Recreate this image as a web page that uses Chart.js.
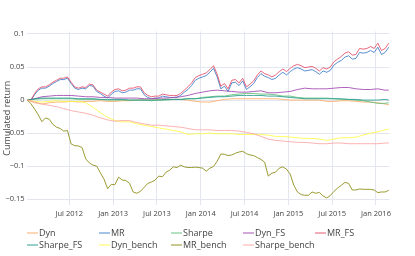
<!DOCTYPE html>
<html>
<head>
<meta charset="utf-8">
<script src="https://cdn.jsdelivr.net/npm/chart.js@4.4.1/dist/chart.umd.min.js"></script>
<style>
  body { margin: 0; background: #fff; }
  #wrap { position: relative; width: 415px; height: 256px; font-family: "Open Sans", sans-serif; }
  #legend { position: absolute; left: 0; top: 0; width: 415px; height: 256px; font-size: 9px; color: #444; pointer-events: none; }
  .item { position: absolute; white-space: nowrap; line-height: 12px; height: 12px; }
  .sw { display: inline-block; width: 11px; height: 0; border-top: 2px solid; vertical-align: middle; margin-right: 1px; position: relative; top: -1px; }
</style>
</head>
<body>
<div id="wrap">
  <canvas id="mainChart" width="415" height="256"></canvas>
  <div id="legend"></div>
</div>
<script>
// series names in legend order
var seriesNames = ["Dyn", "MR", "Sharpe", "Dyn_FS", "MR_FS", "Sharpe_FS", "Dyn_bench", "MR_bench", "Sharpe_bench"];

// x axis is months since Jan 2012
var xTickMonths = [6, 12, 18, 24, 30, 36, 42, 48];
var xTickLabels = ["Jul 2012", "Jan 2013", "Jul 2013", "Jan 2014", "Jul 2014", "Jan 2015", "Jul 2015", "Jan 2016"];
var yTickValues = [-0.15, -0.1, -0.05, 0, 0.05, 0.1];

// sampling dates (half month for the noisy series, monthly for the smooth ones)
var halfMonths = [
  0.25, 0.75, 1.25, 1.75, 2.25, 2.75, 3.25, 3.75, 4.25, 4.75,
  5.25, 5.75, 6.25, 6.75, 7.25, 7.75, 8.25, 8.75, 9.25, 9.75,
  10.25, 10.75, 11.25, 11.75, 12.25, 12.75, 13.25, 13.75, 14.25, 14.75,
  15.25, 15.75, 16.25, 16.75, 17.25, 17.75, 18.25, 18.75, 19.25, 19.75,
  20.25, 20.75, 21.25, 21.75, 22.25, 22.75, 23.25, 23.75, 24.25, 24.75,
  25.25, 25.75, 26.25, 26.75, 27.25, 27.75, 28.25, 28.75, 29.25, 29.75,
  30.25, 30.75, 31.25, 31.75, 32.25, 32.75, 33.25, 33.75, 34.25, 34.75,
  35.25, 35.75, 36.25, 36.75, 37.25, 37.75, 38.25, 38.75, 39.25, 39.75,
  40.25, 40.75, 41.25, 41.75, 42.25, 42.75, 43.25, 43.75, 44.25, 44.75,
  45.25, 45.75, 46.25, 46.75, 47.25, 47.75, 48.25, 48.75, 49.25, 49.75
];
var months = [
  0.25, 1.25, 2.25, 3.25, 4.25, 5.25, 6.25, 7.25, 8.25, 9.25,
  10.25, 11.25, 12.25, 13.25, 14.25, 15.25, 16.25, 17.25, 18.25, 19.25,
  20.25, 21.25, 22.25, 23.25, 24.25, 25.25, 26.25, 27.25, 28.25, 29.25,
  30.25, 31.25, 32.25, 33.25, 34.25, 35.25, 36.25, 37.25, 38.25, 39.25,
  40.25, 41.25, 42.25, 43.25, 44.25, 45.25, 46.25, 47.25, 48.25, 49.25, 49.75
];

// values (half-month grid)
var mrFS = [
  0, 0, 0.010, 0.017, 0.020, 0.020, 0.023, 0.027, 0.030, 0.033,
  0.033, 0.035, 0.027, 0.020, 0.018, 0.020, 0.019, 0.024, 0.023, 0.015,
  0.012, 0.009, 0.006, 0.012, 0.016, 0.017, 0.014, 0.015, 0.018, 0.018,
  0.020, 0.020, 0.011, 0.007, 0.005, 0.006, 0.006, 0.009, 0.008, 0.007,
  0.007, 0.007, 0.010, 0.015, 0.020, 0.026, 0.034, 0.037, 0.039, 0.041,
  0.046, 0.052, 0.039, 0.021, 0.025, 0.017, 0.030, 0.031, 0.026, 0.033,
  0.020, 0.024, 0.029, 0.038, 0.044, 0.040, 0.038, 0.035, 0.038, 0.043,
  0.047, 0.043, 0.048, 0.052, 0.054, 0.052, 0.049, 0.050, 0.051, 0.048,
  0.044, 0.049, 0.047, 0.050, 0.058, 0.062, 0.066, 0.071, 0.073, 0.068,
  0.069, 0.078, 0.077, 0.078, 0.081, 0.078, 0.086, 0.075, 0.078, 0.086
];
var mr = [
  0, 0, 0.008, 0.015, 0.018, 0.018, 0.021, 0.025, 0.028, 0.031,
  0.031, 0.033, 0.025, 0.018, 0.016, 0.018, 0.017, 0.022, 0.021, 0.013,
  0.010, 0.006, 0.003, 0.009, 0.013, 0.014, 0.011, 0.012, 0.015, 0.015,
  0.017, 0.017, 0.008, 0.004, 0.002, 0.003, 0.003, 0.006, 0.005, 0.004,
  0.004, 0.004, 0.007, 0.012, 0.016, 0.022, 0.030, 0.033, 0.035, 0.037,
  0.042, 0.048, 0.035, 0.017, 0.021, 0.013, 0.026, 0.027, 0.022, 0.029,
  0.016, 0.020, 0.025, 0.034, 0.040, 0.036, 0.034, 0.031, 0.033, 0.038,
  0.042, 0.038, 0.043, 0.047, 0.049, 0.047, 0.044, 0.045, 0.046, 0.043,
  0.039, 0.044, 0.042, 0.045, 0.053, 0.057, 0.060, 0.065, 0.067, 0.062,
  0.063, 0.072, 0.071, 0.072, 0.075, 0.072, 0.080, 0.069, 0.072, 0.080
];
var mrBench = [
  0, -0.0056, -0.0136, -0.0223, -0.0327, -0.027, -0.029, -0.0368, -0.041, -0.043,
  -0.047, -0.046, -0.0664, -0.069, -0.0694, -0.0718, -0.089, -0.095, -0.0985, -0.0998,
  -0.110, -0.1195, -0.134, -0.1275, -0.128, -0.1165, -0.121, -0.1217, -0.126, -0.139,
  -0.141, -0.138, -0.132, -0.126, -0.124, -0.121, -0.115, -0.116, -0.109, -0.106,
  -0.101, -0.102, -0.0985, -0.101, -0.102, -0.102, -0.1015, -0.102, -0.103, -0.1075,
  -0.103, -0.1005, -0.0925, -0.0817, -0.082, -0.084, -0.083, -0.0805, -0.0785, -0.0775,
  -0.081, -0.083, -0.084, -0.087, -0.0897, -0.094, -0.115, -0.1105, -0.109, -0.103,
  -0.101, -0.1045, -0.112, -0.129, -0.139, -0.143, -0.144, -0.144, -0.139, -0.141,
  -0.1397, -0.145, -0.148, -0.1444, -0.138, -0.133, -0.129, -0.1245, -0.126, -0.136,
  -0.136, -0.1344, -0.135, -0.135, -0.135, -0.136, -0.140, -0.139, -0.139, -0.1364
];

// monthly grid
var dyn = [
  0, -0.004, -0.006, -0.004, -0.003, -0.003, -0.002, -0.003, -0.002, -0.002,
  -0.001, -0.002, -0.002, -0.001, -0.001, 0.0, 0.0, 0.0, 0.001, 0.001,
  0.001, 0.001, 0.0, -0.002, -0.003, -0.003, -0.001, 0.001, 0.002, 0.002,
  0.002, 0.002, 0.002, 0.002, 0.002, 0.001, 0.0, 0.0, 0.0, 0.0,
  0.0, -0.002, -0.002, -0.001, -0.001, -0.002, -0.003, -0.003, -0.004, -0.006, -0.007
];
var sharpe = [
  0, 0.001, 0.002, 0.002, 0.002, 0.002, 0.002, 0.001, 0.001, 0.001,
  0.001, 0.0, 0.0, 0.0, 0.0, 0.0, 0.0, -0.001, 0.0, 0.0,
  0.001, 0.001, 0.002, 0.002, 0.004, 0.005, 0.006, 0.006, 0.008, 0.009,
  0.010, 0.010, 0.009, 0.009, 0.008, 0.006, 0.006, 0.004, 0.003, 0.003,
  0.003, 0.003, 0.002, 0.001, 0.001, 0.0, -0.001, -0.003, -0.005, -0.005, -0.004
];
var dynFS = [
  0, 0.002, 0.005, 0.006, 0.007, 0.007, 0.007, 0.006, 0.005, 0.005,
  0.004, 0.004, 0.003, 0.003, 0.003, 0.003, 0.002, 0.002, 0.003, 0.003,
  0.004, 0.005, 0.007, 0.010, 0.012, 0.014, 0.015, 0.014, 0.013, 0.012,
  0.012, 0.013, 0.014, 0.011, 0.011, 0.012, 0.013, 0.016, 0.018, 0.017,
  0.017, 0.017, 0.018, 0.019, 0.019, 0.017, 0.016, 0.016, 0.017, 0.015, 0.015
];
var sharpeFS = [
  0, 0.002, 0.003, 0.003, 0.003, 0.003, 0.003, 0.002, 0.002, 0.002,
  0.001, 0.001, 0.001, 0.001, 0.0, 0.0, 0.0, 0.0, 0.0, 0.001,
  0.001, 0.001, 0.002, 0.002, 0.003, 0.004, 0.005, 0.005, 0.006, 0.007,
  0.007, 0.007, 0.007, 0.006, 0.006, 0.005, 0.004, 0.003, 0.002, 0.002,
  0.002, 0.002, 0.002, 0.002, 0.001, 0.001, 0.0, 0.0, 0.0, 0.001, 0.0
];
var dynBench = [
  0, -0.002, -0.003, -0.002, -0.001, -0.002, -0.002, -0.002, -0.004, -0.011,
  -0.019, -0.026, -0.031, -0.033, -0.033, -0.036, -0.038, -0.040, -0.042, -0.044,
  -0.046, -0.048, -0.052, -0.051, -0.051, -0.050, -0.051, -0.051, -0.051, -0.052,
  -0.052, -0.052, -0.052, -0.053, -0.055, -0.055, -0.056, -0.057, -0.058, -0.058,
  -0.059, -0.061, -0.059, -0.057, -0.057, -0.056, -0.053, -0.050, -0.048, -0.045, -0.044
];
var sharpeBench = [
  0, -0.003, -0.006, -0.008, -0.010, -0.013, -0.016, -0.018, -0.020, -0.023,
  -0.027, -0.030, -0.032, -0.031, -0.031, -0.034, -0.036, -0.038, -0.038, -0.039,
  -0.040, -0.041, -0.043, -0.045, -0.045, -0.045, -0.046, -0.046, -0.046, -0.047,
  -0.049, -0.051, -0.055, -0.059, -0.061, -0.062, -0.063, -0.064, -0.064, -0.065,
  -0.066, -0.066, -0.065, -0.065, -0.066, -0.066, -0.066, -0.066, -0.066, -0.065, -0.065
];

var lineColors = [
  "rgba(253,170,100,0.85)", "rgba(60,125,200,0.85)", "rgba(95,190,120,0.85)",
  "rgba(160,70,175,0.85)", "rgba(228,65,95,0.8)", "rgba(35,155,140,0.85)",
  "rgba(255,250,70,0.85)", "rgba(150,150,40,0.95)", "rgba(250,165,165,0.85)"
];
var gridColor = "#e3e6ee";

function toPoints(xs, ys) {
  return ys.map(function (v, i) { return { x: xs[i], y: v }; });
}

var seriesData = [
  toPoints(months, dyn), toPoints(halfMonths, mr), toPoints(months, sharpe),
  toPoints(months, dynFS), toPoints(halfMonths, mrFS), toPoints(months, sharpeFS),
  toPoints(months, dynBench), toPoints(halfMonths, mrBench), toPoints(months, sharpeBench)
];

var datasets = seriesNames.map(function (name, i) {
  return {
    label: name,
    data: seriesData[i],
    borderColor: lineColors[i],
    backgroundColor: lineColors[i],
    borderWidth: 1,
    pointRadius: 0,
    tension: 0,
    fill: false,
    order: seriesNames.length - i   // later traces on top
  };
});

var config = {
  type: "line",
  data: { datasets: datasets },
  options: {
    responsive: false,
    animation: false,
    layout: { padding: { top: 31.5, right: 25.5, bottom: 35, left: 0 } },
    plugins: { legend: { display: false }, tooltip: { enabled: false } },
    scales: {
      x: {
        type: "linear",
        min: 0.14,
        max: 49.85,
        afterBuildTicks: function (scale) {
          scale.ticks = xTickMonths.map(function (v) { return { value: v }; });
        },
        afterFit: function (scale) { scale.height = 16; },
        grid: { color: gridColor, drawTicks: false },
        border: { display: false },
        ticks: {
          padding: 4, maxRotation: 0, autoSkip: false, color: "#444",
          font: { family: "Open Sans", size: 7.5 },
          callback: function (value, index) { return xTickLabels[index]; }
        }
      },
      y: {
        min: -0.1587,
        max: 0.1037,
        afterBuildTicks: function (scale) {
          scale.ticks = yTickValues.map(function (v) { return { value: v }; });
        },
        afterFit: function (scale) { scale.width = 26.5; },
        grid: { color: gridColor, drawTicks: false },
        border: { display: false },
        ticks: {
          padding: 2, color: "#444",
          font: { family: "Open Sans", size: 7.5 },
          callback: function (value) {
            return String(Math.round(value * 100) / 100).replace("-", "\u2212");
          }
        },
        title: {
          display: true, text: "Cumulated return", color: "#444",
          padding: { top: 2, bottom: 0 },
          font: { family: "Open Sans", size: 9 }
        }
      }
    }
  }
};

var ctx = document.getElementById("mainChart");
new Chart(ctx, config);

// legend laid out in fixed columns like the original
var legend = document.getElementById("legend");
seriesNames.forEach(function (name, i) {
  var item = document.createElement("div");
  item.className = "item";
  item.style.left = (27 + (i % 5) * 72) + "px";
  item.style.top = (227 + Math.floor(i / 5) * 12) + "px";
  var sw = document.createElement("span");
  sw.className = "sw";
  sw.style.borderColor = lineColors[i];
  sw.style.opacity = "0.55";
  item.appendChild(sw);
  item.appendChild(document.createTextNode(name));
  legend.appendChild(item);
});
</script>
</body>
</html>
